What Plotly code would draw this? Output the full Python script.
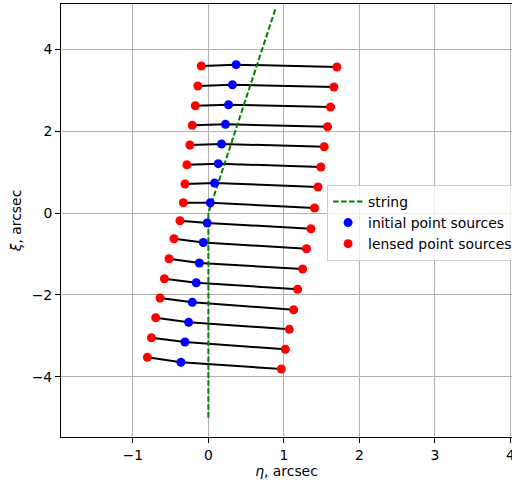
import plotly.graph_objects as go

# initial point sources (blue)
init_x = [0.368, 0.319, 0.267, 0.227, 0.174, 0.131, 0.082, 0.025, -0.015, -0.067, -0.120, -0.160, -0.213, -0.261, -0.310, -0.363]
init_y = [3.624, 3.135, 2.646, 2.167, 1.686, 1.205, 0.733, 0.252, -0.244, -0.720, -1.222, -1.703, -2.182, -2.671, -3.152, -3.648]

# lensed images, left of string
lensL_x = [-0.094, -0.139, -0.173, -0.213, -0.244, -0.284, -0.310, -0.331, -0.376, -0.455, -0.521, -0.582, -0.640, -0.697, -0.754, -0.807]
lensL_y = [3.592, 3.103, 2.622, 2.143, 1.662, 1.180, 0.709, 0.252, -0.188, -0.628, -1.117, -1.605, -2.077, -2.558, -3.047, -3.526]

# lensed images, right of string
lensR_x = [1.702, 1.662, 1.617, 1.578, 1.534, 1.490, 1.451, 1.406, 1.358, 1.300, 1.248, 1.182, 1.129, 1.072, 1.019, 0.966]
lensR_y = [3.567, 3.079, 2.590, 2.109, 1.620, 1.124, 0.635, 0.122, -0.384, -0.872, -1.368, -1.864, -2.363, -2.842, -3.330, -3.812]

# string
string_x = [0.0, 0.0, 0.89]
string_y = [-5.0, 0.0, 5.0]

FONT = "DejaVu Sans"
FS = 13.9

# black connecting polylines: left lensed -> initial -> right lensed
lx, ly = [], []
for i in range(len(init_x)):
    lx += [lensL_x[i], init_x[i], lensR_x[i], None]
    ly += [lensL_y[i], init_y[i], lensR_y[i], None]

fig = go.Figure()
fig.add_trace(go.Scatter(x=lx, y=ly, mode="lines", line=dict(color="black", width=2),
                         showlegend=False, hoverinfo="skip"))
fig.add_trace(go.Scatter(x=string_x, y=string_y, mode="lines", name="string",
                         line=dict(color="#008000", width=2, dash="5.55px,2.4px"),
                         legendrank=1))
fig.add_trace(go.Scatter(x=init_x, y=init_y, mode="markers", name="initial point sources",
                         marker=dict(color="blue", size=9), legendrank=2))
fig.add_trace(go.Scatter(x=lensL_x + lensR_x, y=lensL_y + lensR_y, mode="markers",
                         name="lensed point sources",
                         marker=dict(color="red", size=9), legendrank=3))

axis_common = dict(
    showgrid=True, gridcolor="#b0b0b0", gridwidth=0.8,
    zeroline=False, showline=True, linecolor="black", linewidth=1,
    ticks="outside", ticklen=5, tickwidth=1, tickcolor="black",
    tickfont=dict(family=FONT, size=FS, color="black"),
    automargin=False, ticklabeloverflow="allow",
)

fig.update_layout(
    width=512, height=482,
    margin=dict(l=61, r=0, t=4, b=45, autoexpand=False),
    paper_bgcolor="white", plot_bgcolor="white",
    font=dict(family=FONT, size=FS, color="black"),
    xaxis=dict(range=[-1.951, 4.02], tickvals=[-1, 0, 1, 2, 3, 4], mirror=True,
               title=dict(text="<i>η</i>, arcsec", font=dict(family=FONT, size=FS), standoff=4),
               **axis_common),
    yaxis=dict(range=[-5.473, 5.107], tickvals=[-4, -2, 0, 2, 4],
               title=dict(text="<i>ξ</i>, arcsec", font=dict(family=FONT, size=FS), standoff=6),
               **axis_common),
    legend=dict(x=0.59, y=0.582, xanchor="left", yanchor="top",
                bgcolor="rgba(255,255,255,0.8)", bordercolor="#cccccc", borderwidth=1,
                font=dict(family=FONT, size=FS), itemwidth=30, tracegroupgap=0),
    showlegend=True,
)

fig.write_html("out.html", config={"displayModeBar": False},
               post_script="document.body.style.margin='0';document.body.style.overflow='hidden';")
